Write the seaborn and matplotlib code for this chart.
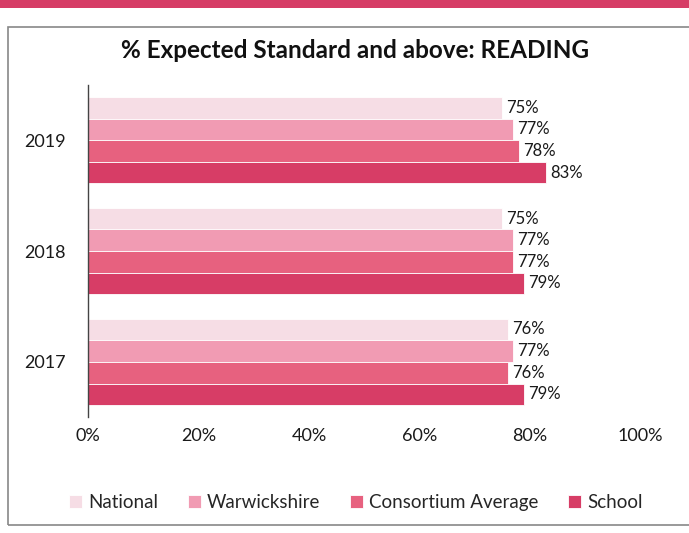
import numpy as np
import pandas as pd
import seaborn as sns
import matplotlib.pyplot as plt
from matplotlib.patches import Rectangle

years = ["2019", "2018", "2017"]
series = ["National", "Warwickshire", "Consortium Average", "School"]
national = [75, 75, 76]
warwickshire = [77, 77, 77]
consortium = [78, 77, 76]
school = [83, 79, 79]
x_ticks = [0, 20, 40, 60, 80, 100]

colors = ["#f6dde5", "#f19bb3", "#e7617f", "#d73d66"]

rows = []
for name, vals in zip(series, [national, warwickshire, consortium, school]):
    for y, v in zip(years, vals):
        rows.append({"year": y, "series": name, "value": v})
df = pd.DataFrame(rows)

sns.set_style("white")
plt.rcParams['font.family'] = ['Lato', 'DejaVu Sans']

fig = plt.figure(figsize=(6.89, 5.33), dpi=100)
ax = fig.add_axes([0.128, 0.217, 0.801, 0.624])

sns.barplot(data=df, x="value", y="year", hue="series", order=years,
            hue_order=series, palette=colors, saturation=1, orient="h",
            width=0.78, edgecolor="white", linewidth=0.6, ax=ax)

for cont in ax.containers:
    ax.bar_label(cont, labels=[f"{int(v)}%" for v in cont.datavalues],
                 padding=3, fontsize=12, color="#1a1a1a")

ax.set_xlim(0, 100)
ax.set_xticks(x_ticks)
ax.set_xticklabels([f"{t}%" for t in x_ticks], fontsize=13, color="#1a1a1a")
ax.tick_params(axis="y", labelsize=13, colors="#1a1a1a", length=0, pad=16)
ax.tick_params(axis="x", length=0, pad=8)
ax.set_xlabel("")
ax.set_ylabel("")
for s in ["top", "right", "bottom"]:
    ax.spines[s].set_visible(False)
ax.spines["left"].set_color("#444444")
ax.spines["left"].set_linewidth(1.0)

handles, labels = ax.get_legend_handles_labels()
ax.legend(handles, labels, loc="upper center", bbox_to_anchor=(0.485, -0.18),
          ncol=4, frameon=False, handlelength=0.7, handleheight=0.7,
          handletextpad=0.3, columnspacing=1.6, prop={"size": 13.5})

fig.text(0.515, 0.905, "% Expected Standard and above: READING",
         ha="center", va="center", fontsize=17.5, fontweight="bold", color="#111111")

# chart frame and pink band along the top
fig.patches.append(Rectangle((0.012, 0.015), 0.99, 0.935, transform=fig.transFigure,
                             fill=False, edgecolor="#888888", linewidth=1.2))
fig.patches.append(Rectangle((0.0, 0.985), 1.0, 0.015, transform=fig.transFigure,
                             facecolor="#d63d66", edgecolor="none"))

fig.savefig("out.png", dpi=100)
